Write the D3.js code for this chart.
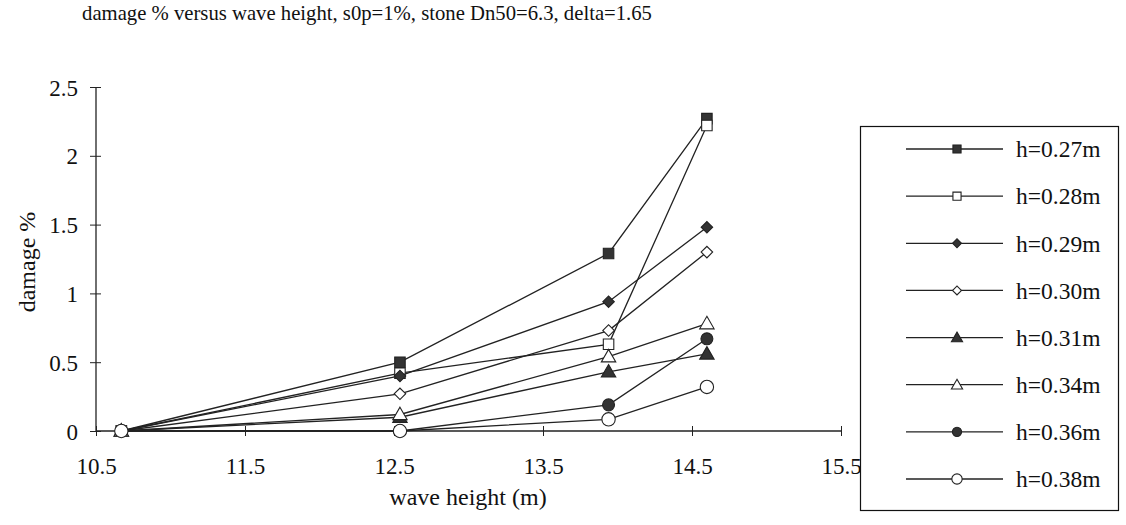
<!DOCTYPE html>
<html><head><meta charset="utf-8">
<script src="https://cdn.jsdelivr.net/npm/d3@7"></script>
<style>
html,body{margin:0;padding:0;background:#fff;}
text{font-family:"Liberation Serif","Times New Roman",serif;fill:#111;}
</style></head>
<body><svg id="c" width="1126" height="525"></svg>
<script>
// ---- data ----
const waveHeights = [10.67, 12.54, 13.94, 14.6];
const seriesNames = ["h=0.27m","h=0.28m","h=0.29m","h=0.30m","h=0.31m","h=0.34m","h=0.36m","h=0.38m"];
const h027 = [0, 0.50, 1.29, 2.27];
const h028 = [0, 0.42, 0.63, 2.22];
const h029 = [0, 0.40, 0.94, 1.48];
const h030 = [0, 0.27, 0.73, 1.30];
const h031 = [0, 0.10, 0.43, 0.56];
const h034 = [0, 0.12, 0.54, 0.78];
const h036 = [0, 0.00, 0.19, 0.67];
const h038 = [0, 0.00, 0.085, 0.32];
const xTicks = [10.5, 11.5, 12.5, 13.5, 14.5, 15.5];
const yTicks = [0, 0.5, 1, 1.5, 2, 2.5];
const titleText = "damage % versus wave height, s0p=1%, stone Dn50=6.3, delta=1.65";
const xTitle = "wave height (m)";
const yTitle = "damage %";

const seriesValues = [h027,h028,h029,h030,h031,h034,h036,h038];
// marker styles: [shape, filled]
const markerDefs = [
  ["square", true], ["square", false], ["diamond", true], ["diamond", false],
  ["triangle", true], ["triangle", false], ["circle", true], ["circle", false]
];

const svg = d3.select("#c");
const x = d3.scaleLinear().domain([10.5, 15.5]).range([96, 841]);
const y = d3.scaleLinear().domain([0, 2.5]).range([431, 87]);
const ink = "#222";

function symPath(shape, scale) {
  const t = {square: d3.symbolSquare, diamond: d3.symbolSquare, triangle: d3.symbolTriangle, circle: d3.symbolCircle}[shape];
  const sizes = {square: 110, diamond: 66, triangle: 90, circle: 140};
  return d3.symbol().type(t).size(sizes[shape] * scale)();
}
function drawMarker(g, shape, filled, cx, cy, scale) {
  let s = scale;
  if (shape === "circle" && filled) s = scale * 0.8;
  g.append("path")
    .attr("d", symPath(shape, s))
    .attr("transform", `translate(${cx},${cy})` + (shape === "diamond" ? " rotate(45)" : "") + (shape === "triangle" ? " translate(0,1)" : ""))
    .attr("fill", filled ? "#333" : "#fff")
    .attr("stroke", ink)
    .attr("stroke-width", 1.1);
}

// title
svg.append("text").attr("x", 367).attr("y", 20).attr("text-anchor", "middle")
  .style("font-size", "20.7px").text(titleText);

// axes
const xAxis = svg.append("g").attr("transform", `translate(0,${y(0)})`)
  .call(d3.axisBottom(x).tickValues(xTicks).tickFormat(d3.format("")).tickSize(5).tickPadding(22));
xAxis.select(".domain").attr("d", `M${x(10.5)},0H${x(15.5)}`).attr("stroke", ink).attr("stroke-width", 1.3);
xAxis.selectAll(".tick line").attr("y1", -5).attr("y2", 5).attr("stroke", ink);
xAxis.selectAll(".tick text").style("font-size", "23px").attr("fill", "#111").style("font-family", "Liberation Serif");

const yAxis = svg.append("g").attr("transform", `translate(${x(10.5)},0)`)
  .call(d3.axisLeft(y).tickValues(yTicks).tickFormat(d3.format("")).tickSize(5).tickPadding(13));
yAxis.select(".domain").attr("d", `M0,${y(0)}V${y(2.5)}`).attr("stroke", ink).attr("stroke-width", 1.3);
yAxis.selectAll(".tick line").attr("x1", -6).attr("x2", 5).attr("stroke", ink);
yAxis.selectAll(".tick text").style("font-size", "23px").attr("fill", "#111").attr("dy", "0.35em").style("font-family", "Liberation Serif");

svg.append("text").attr("x", 468).attr("y", 505).attr("text-anchor", "middle")
  .style("font-size", "24px").text(xTitle);
svg.append("text").attr("transform", "translate(35,262) rotate(-90)").attr("text-anchor", "middle")
  .style("font-size", "24px").text(yTitle);

// series
const line = d3.line().x((d, i) => x(waveHeights[i])).y(d => y(d));
const plot = svg.append("g");
seriesValues.forEach((vals, si) => {
  const g = plot.append("g");
  g.append("path").attr("d", line(vals)).attr("fill", "none").attr("stroke", ink).attr("stroke-width", 1.3);
  const [shape, filled] = markerDefs[si];
  vals.forEach((v, i) => drawMarker(g, shape, filled, x(waveHeights[i]), y(v), 1));
});

// legend
const lg = svg.append("g");
lg.append("rect").attr("x", 860.5).attr("y", 126.5).attr("width", 258).attr("height", 384)
  .attr("fill", "#fff").attr("stroke", "#111").attr("stroke-width", 1.2);
const legendY = d3.scalePoint().domain(seriesNames).range([149, 479]);
seriesNames.forEach((name, si) => {
  const cy = legendY(name);
  lg.append("line").attr("x1", 906).attr("x2", 1003).attr("y1", cy).attr("y2", cy)
    .attr("stroke", ink).attr("stroke-width", 1.3);
  const [shape, filled] = markerDefs[si];
  drawMarker(lg, shape, filled, 957, cy, 0.6);
  lg.append("text").attr("x", 1016).attr("y", cy).attr("dy", "0.35em")
    .style("font-size", "23.5px").text(name);
});
</script></body></html>
